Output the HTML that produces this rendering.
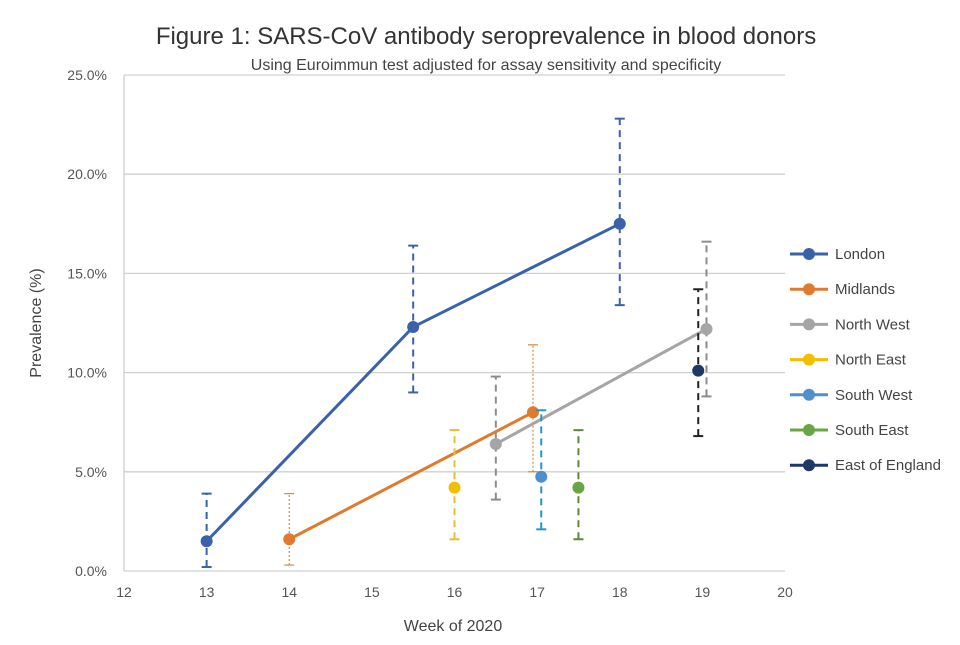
<!DOCTYPE html>
<html><head><meta charset="utf-8"><style>
body{margin:0;background:#fff;font-family:"Liberation Sans",sans-serif}
svg text{font-family:"Liberation Sans",sans-serif}
</style></head><body>
<svg id="chart" width="960" height="640">
<text x="486" y="44" text-anchor="middle" font-size="24" fill="#333">Figure 1: SARS-CoV antibody seroprevalence in blood donors</text>
<text x="486" y="70" text-anchor="middle" font-size="16" fill="#444">Using Euroimmun test adjusted for assay sensitivity and specificity</text>
<g id="grid"></g><g id="axes"></g><g id="marks"></g><g id="legend"></g>
<text x="453" y="631" text-anchor="middle" font-size="16" fill="#444">Week of 2020</text>
<text transform="translate(41,323) rotate(-90)" text-anchor="middle" font-size="16" fill="#444">Prevalence (%)</text>
</svg>
<script>
const seriesNames=["London","Midlands","North West","North East","South West","South East","East of England"];
const seriesColors=["#3a62a8","#e07a2e","#a5a5a5","#f2bf00","#4f8fd0","#6aa545","#1f3868"];
const errColors=["#3a62a8","#d08a4a","#8c8c8c","#e6bf30","#2496c8","#5a8a3a","#222"];
const weeks=[[13,15.5,18],[14,16.95],[16.5,19.05],[16],[17.05],[17.5],[18.95]];
const values=[[1.5,12.3,17.5],[1.6,8.0],[6.4,12.2],[4.2],[4.75],[4.2],[10.1]];
const lows=[[0.2,9.0,13.4],[0.3,5.0],[3.6,8.8],[1.6],[2.1],[1.6],[6.8]];
const highs=[[3.9,16.4,22.8],[3.9,11.4],[9.8,16.6],[7.1],[8.1],[7.1],[14.2]];
const errOffset=[[0,0,0],[0,0],[0,0],[0],[0],[0],[0]];
const xTicks=[12,13,14,15,16,17,18,19,20];
const yTicks=[0,5,10,15,20,25];
const NS="http://www.w3.org/2000/svg";
const X0=124,X1=785,Y0=571,Y1=75;
const xs=v=>X0+(v-12)/8*(X1-X0);
const ys=v=>Y0-v/25*(Y0-Y1);
function mk(p,t,a){const e=document.createElementNS(NS,t);for(const k in a)e.setAttribute(k,a[k]);document.getElementById(p).appendChild(e);return e;}
yTicks.forEach(t=>{
 const l=mk("grid","line",{x1:X0,x2:X1,y1:ys(t),y2:ys(t),stroke:"#d0d0d0","stroke-width":1.3});
 
 
 const tx=mk("axes","text",{x:X0-17,y:ys(t)+5,"text-anchor":"end","font-size":14,fill:"#555"});
 tx.textContent=t.toFixed(1)+"%";
 
 
});
const ya=mk("axes","line",{x1:X0,x2:X0,y1:Y1,y2:Y0,stroke:"#d0d0d0","stroke-width":1.3});


xTicks.forEach(t=>{
 const tx=mk("axes","text",{x:xs(t),y:597,"text-anchor":"middle","font-size":14,fill:"#555"});
 tx.textContent=t;
 
 
});
seriesNames.forEach((n,i)=>{
 weeks[i].forEach((w,j)=>{
  const x=xs(w)+errOffset[i][j];
  const dash=i==1?"2,2":"7,5";const sw=i==1?1.2:2;
  const e=mk("marks","line",{x1:x,x2:x,y1:ys(lows[i][j]),y2:ys(highs[i][j]),stroke:errColors[i],"stroke-width":sw,"stroke-dasharray":dash});
  
  
  [lows[i][j],highs[i][j]].forEach(v=>{
   const c=mk("marks","line",{x1:x-5,x2:x+5,y1:ys(v),y2:ys(v),stroke:errColors[i],"stroke-width":sw});
   
   
  });
 });
 if(weeks[i].length>1){
  const pl=mk("marks","polyline",{points:weeks[i].map((w,j)=>xs(w)+","+ys(values[i][j])).join(" "),fill:"none",stroke:seriesColors[i],"stroke-width":3});
  
  
 }
 weeks[i].forEach((w,j)=>{
  const c=mk("marks","circle",{cx:xs(w),cy:ys(values[i][j]),r:6,fill:seriesColors[i]});
  
  
 });
 const ly=254+i*35.2;
 const ll=mk("legend","line",{x1:790,x2:828,y1:ly,y2:ly,stroke:seriesColors[i],"stroke-width":3});
 
 
 const lc=mk("legend","circle",{cx:809,cy:ly,r:6,fill:seriesColors[i]});
 
 
 const lt=mk("legend","text",{x:835,y:ly+5,"font-size":15,fill:"#444"});
 lt.textContent=n;
 
 
});
</script>
</body></html>
